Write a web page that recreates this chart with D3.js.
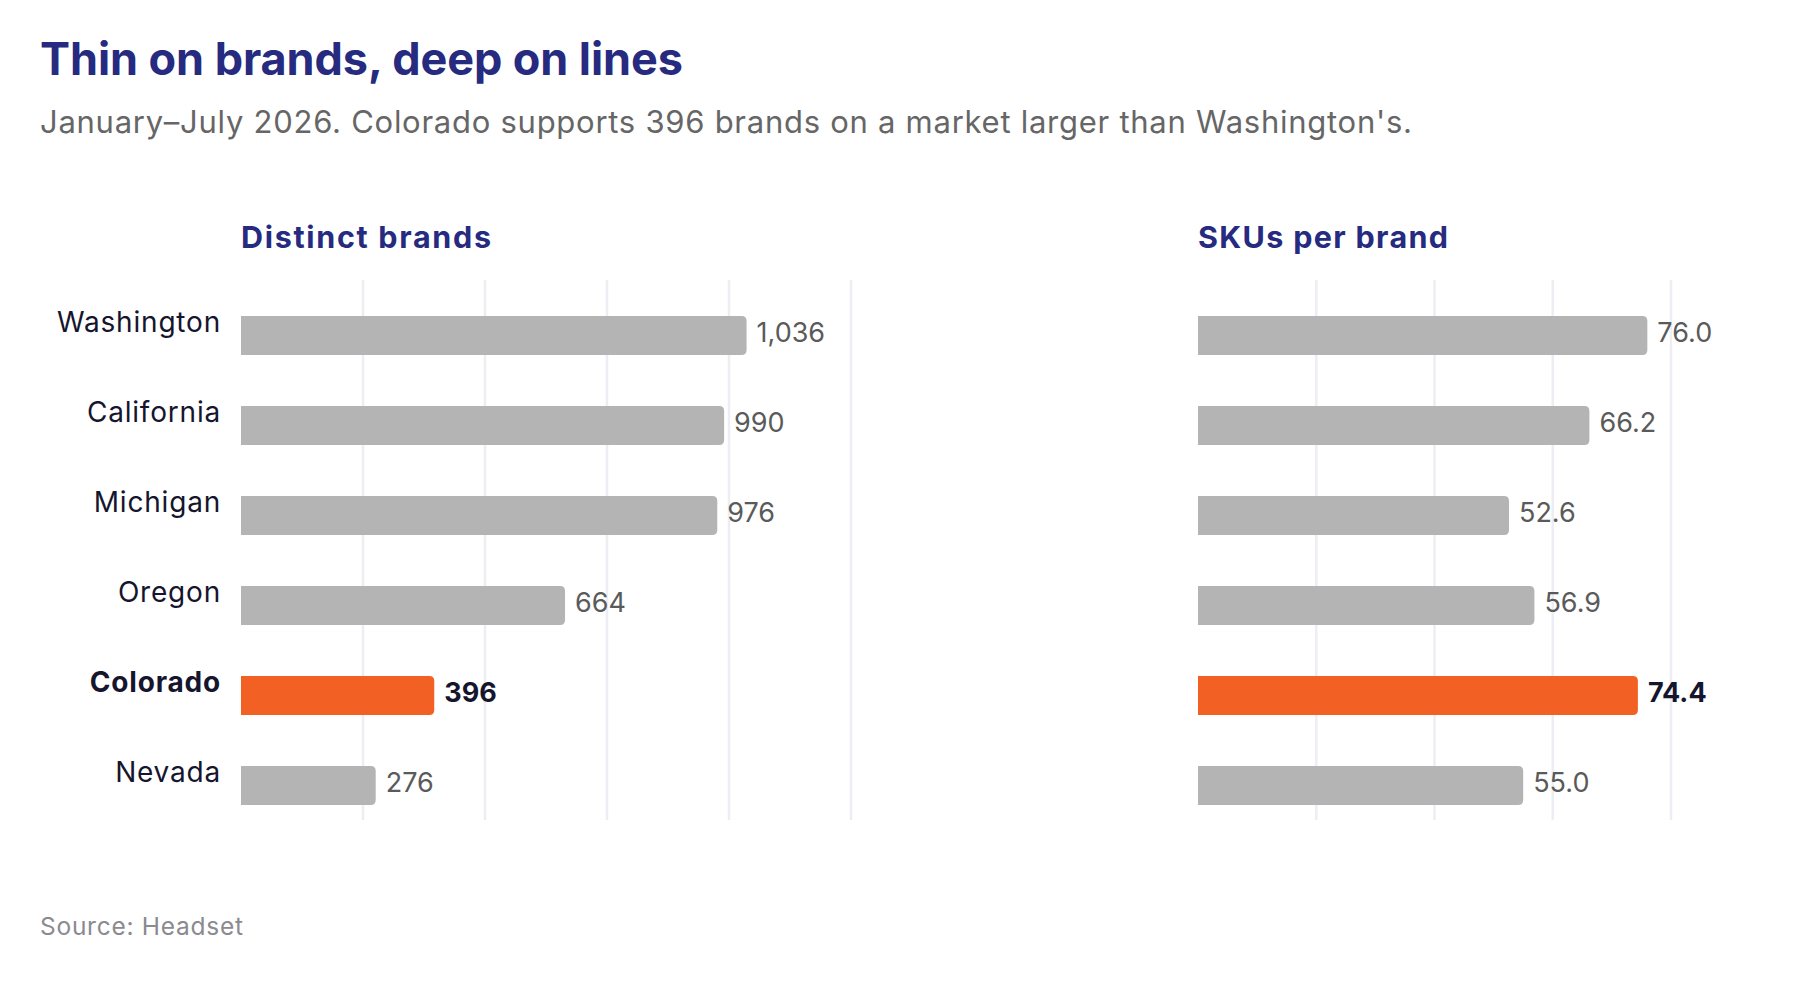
<!DOCTYPE html>
<html>
<head>
<meta charset="utf-8">
<script src="https://cdn.jsdelivr.net/npm/d3@7.9.0/dist/d3.min.js"></script>
<style>
  body { margin: 0; background: #fff; }
  svg { display: block; }
  text { font-family: Inter, 'Noto Sans', sans-serif; }
</style>
</head>
<body>
<svg id="chart" width="1798" height="983"></svg>
<script>
const states = ['Washington', 'California', 'Michigan', 'Oregon', 'Colorado', 'Nevada'];
const brands = [1036, 990, 976, 664, 396, 276];
const skusPerBrand = [76.0, 66.2, 52.6, 56.9, 74.4, 55.0];
const highlight = 'Colorado';
const brandTicks = [250, 500, 750, 1000, 1250];
const skuTicks = [20, 40, 60, 80];

const NAVY = '#262b7f';
const ORANGE = '#f26024';
const GREY = '#b4b4b4';
const INK = '#15152e';

const svg = d3.select('#chart');

// stretch letter spacing so a line of text ends where the reference ends
function fitWidth(sel, target) {
  const node = sel.node();
  const len = node.getComputedTextLength();
  const n = sel.text().length;
  sel.attr('letter-spacing', ((target - len) / (n - 1)).toFixed(3));
}

svg.append('text')
  .attr('x', 40).attr('y', 75)
  .attr('font-size', 45).attr('font-weight', 700)
  .attr('fill', NAVY)
  .text('Thin on brands, deep on lines')
  .call(fitWidth, 643);

svg.append('text')
  .attr('x', 40).attr('y', 133)
  .attr('font-size', 31).attr('font-weight', 400)
  .attr('fill', '#666')
  .text('January\u2013July 2026. Colorado supports 396 brands on a market larger than Washington\'s.')
  .call(fitWidth, 1372);

svg.append('text')
  .attr('x', 40).attr('y', 935)
  .attr('font-size', 24.5)
  .attr('fill', '#8a8a90')
  .text('Source: Headset')
  .call(fitWidth, 203);

const y = d3.scaleBand().domain(states).range([280, 820]);

const panels = [
  { title: 'Distinct brands', values: brands, domain: [0, 1250], range: [241, 851],
    ticks: brandTicks, fmt: d3.format(','), titleW: 250 },
  { title: 'SKUs per brand', values: skusPerBrand, domain: [0, 80], range: [1198, 1671],
    ticks: skuTicks, fmt: d3.format('.1f'), titleW: 250 }
];

// bar with square left edge, rounded right end
function barPath(x0, x1, top, h, r) {
  r = Math.min(r, (x1 - x0) / 2);
  return `M${x0},${top}H${x1 - r}Q${x1},${top} ${x1},${top + r}` +
         `V${top + h - r}Q${x1},${top + h} ${x1 - r},${top + h}H${x0}Z`;
}

const barTop = y.bandwidth() * 0.4;
const barH = y.bandwidth() * 0.433;

panels.forEach(p => {
  const x = d3.scaleLinear().domain(p.domain).range(p.range);
  const g = svg.append('g');
  const rows = states.map((s, i) => ({ state: s, value: p.values[i] }));

  g.append('text')
    .attr('x', p.range[0]).attr('y', 248)
    .attr('font-size', 30.5).attr('font-weight', 700)
    .attr('fill', NAVY)
    .text(p.title)
    .call(fitWidth, p.titleW);

  g.selectAll('line.grid')
    .data(p.ticks)
    .join('line')
      .attr('class', 'grid')
      .attr('x1', d => x(d)).attr('x2', d => x(d))
      .attr('y1', y.range()[0]).attr('y2', y.range()[1])
      .attr('stroke', '#ededf4').attr('stroke-width', 2.5);

  g.selectAll('path.bar')
    .data(rows)
    .join('path')
      .attr('class', 'bar')
      .attr('d', d => barPath(x(0), x(d.value), y(d.state) + barTop, barH, 5))
      .attr('fill', d => d.state === highlight ? ORANGE : GREY);

  g.selectAll('text.val')
    .data(rows)
    .join('text')
      .attr('class', 'val')
      .attr('x', d => x(d.value) + 10)
      .attr('y', d => y(d.state) + barTop + barH / 2 - 3.5)
      .attr('dy', '0.36em')
      .attr('font-size', 27)
      .attr('font-weight', d => d.state === highlight ? 700 : 400)
      .attr('fill', d => d.state === highlight ? INK : '#5a5a5a')
      .text(d => p.fmt(d.value));
});

svg.append('g')
  .selectAll('text')
  .data(states)
  .join('text')
    .attr('x', 221)
    .attr('y', d => y(d) + y.bandwidth() / 2 - 3.5)
    .attr('dy', '0.36em')
    .attr('text-anchor', 'end')
    .attr('font-size', 28)
    .attr('letter-spacing', 0.8)
    .attr('font-weight', d => d === highlight ? 700 : 400)
    .attr('fill', INK)
    .text(d => d);
</script>
</body>
</html>
